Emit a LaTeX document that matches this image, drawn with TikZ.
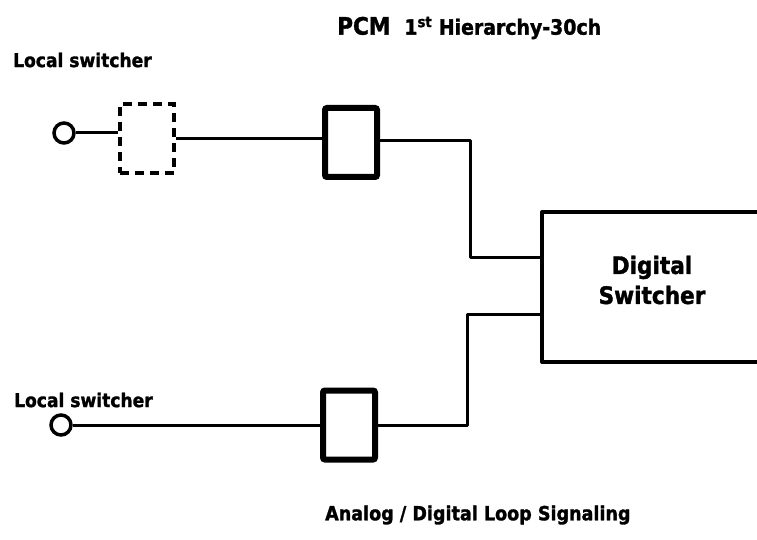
\documentclass[tikz,border=0pt]{standalone}
\usepackage{fontspec}
\setmainfont{DejaVu Sans}[FakeStretch=0.9, BoldFeatures={FakeBold=1.5}]
\begin{document}
\begin{tikzpicture}[x=1pt,y=-1pt,
  wire/.style={line width=3pt, line join=round},
  term/.style={circle, draw, line width=3.5pt, minimum size=20pt, inner sep=0pt},
  unitbox/.style={draw, line width=6pt, rounded corners=2pt, minimum width=52pt, minimum height=69pt, inner sep=0pt},
  dbox/.style={draw, line width=4.5pt, dash pattern=on 9pt off 6pt, minimum width=54pt, minimum height=69pt, inner sep=0pt},
  lbl/.style={font=\bfseries, inner sep=0pt}]
\useasboundingbox (0,0) rectangle (757,540);
% labels
\node[lbl, anchor=west] (title) at (337,28) {{\fontsize{24}{28}\selectfont PCM}\hspace{14pt}{\fontsize{21}{24}\selectfont 1\textsuperscript{st} Hierarchy-30ch}};
\node[lbl, anchor=west, font=\bfseries\fontsize{19}{22}\selectfont] (ls1) at (13,60) {Local switcher};
\node[lbl, anchor=west, font=\bfseries\fontsize{19}{22}\selectfont] (ls2) at (14,400) {Local switcher};
\node[lbl, anchor=west, font=\bfseries\fontsize{19.5}{22}\selectfont] (sig) at (325,515) {Analog / Digital Loop Signaling};
% top row
\node[term] (c1) at (64,133) {};
\node[dbox] (d1) at (147,138.5) {};
\node[unitbox] (b1) at (351,142.5) {};
% bottom row
\node[term] (c2) at (61,425) {};
\node[unitbox] (b2) at (349,425) {};
% digital switcher
\node[lbl, align=center, font=\bfseries\fontsize{24}{30}\selectfont] (ds) at (652,280) {Digital\\Switcher};
\coordinate (in1) at (542,257);
\coordinate (in2) at (542,314);
\coordinate (k1) at (470,0);
\coordinate (k2) at (467,0);
\draw[line width=4pt, line join=round] (760,212) -- (542,212) -- (542,362) -- (760,362);
% connectors
\draw[wire] (c1.east) -- (d1.west |- c1.east);
\draw[wire] (d1.east) -- (b1.west |- d1.east);
\draw[wire] (b1.east |- 0,141) -| (k1 |- in1) -- (in1);
\draw[wire] (c2.east) -- (b2.west);
\draw[wire] (b2.east) -| (k2 |- in2) -- (in2);
\end{tikzpicture}
\end{document}
